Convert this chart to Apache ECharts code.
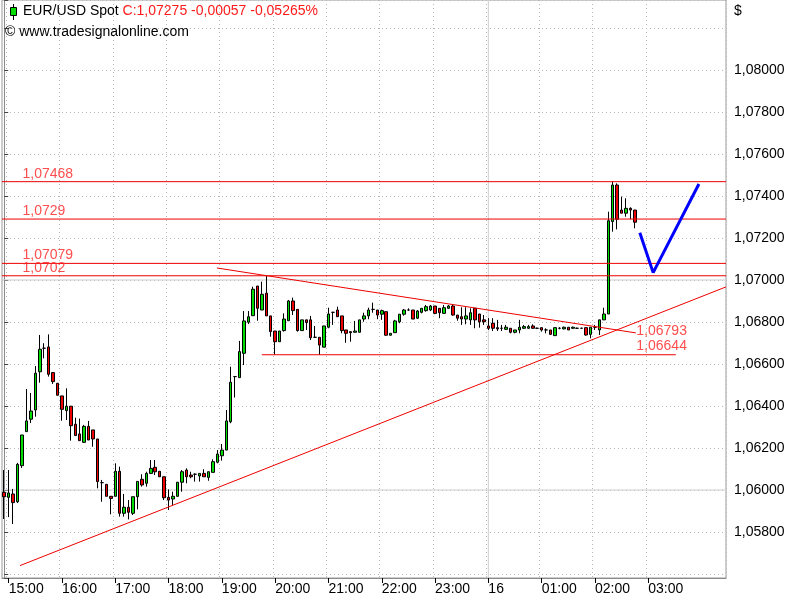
<!DOCTYPE html>
<html>
<head>
<meta charset="utf-8">
<script src="https://cdn.jsdelivr.net/npm/echarts@6/dist/echarts.min.js"></script>
<style>
html,body{margin:0;padding:0;background:#fff;}
#main{width:800px;height:600px;}
</style>
</head>
<body>
<div id="main"></div>
<script>
// ---- time axis: 5-minute bars starting 14:55 ----
const startTime = '14:55';
const barMinutes = 5;
const slotCount = 163; // bars + empty room to the right
const tickTimes = ['15:00','16:00','17:00','18:00','19:00','20:00','21:00','22:00','23:00','00:00','01:00','02:00','03:00'];
const tickTexts = ['15:00','16:00','17:00','18:00','19:00','20:00','21:00','22:00','23:00','16','01:00','02:00','03:00'];

// ---- OHLC (EUR/USD, 5 min) ----
const opens = [1.05989,1.05965,1.05981,1.05944,1.06116,1.06278,1.06337,1.06381,1.06563,1.06675,
1.06681,1.06559,1.06508,1.06448,1.06378,1.06399,1.06313,1.06267,1.06227,1.06303,
1.06286,1.06243,1.06035,1.06027,1.05970,1.05970,1.06089,1.05889,1.05918,1.05889,
1.05968,1.06051,1.06032,1.06079,1.06108,1.06089,1.06063,1.05965,1.05957,1.05970,
1.06037,1.06095,1.06071,1.06075,1.06067,1.06079,1.06060,1.06084,1.06132,1.06163,
1.06190,1.06325,1.06540,1.06535,1.06651,1.06799,1.06830,1.06971,1.06857,1.06937,
1.06829,1.06757,1.06706,1.06759,1.06806,1.06900,1.06860,1.06759,1.06810,1.06810,
1.06727,1.06727,1.06680,1.06775,1.06846,1.06857,1.06829,1.06762,1.06754,1.06751,
1.06751,1.06814,1.06829,1.06860,1.06857,1.06837,1.06849,1.06737,1.06749,1.06801,
1.06837,1.06857,1.06857,1.06818,1.06846,1.06854,1.06857,1.06876,1.06865,1.06841,
1.06865,1.06876,1.06833,1.06825,1.06814,1.06810,1.06865,1.06838,1.06810,1.06781,
1.06794,1.06773,1.06770,1.06765,1.06770,1.06751,1.06762,1.06770,1.06770,1.06781,
1.06770,1.06773,1.06762,1.06762,1.06735,1.06770,1.06767,1.06775,1.06770,1.06770,
1.06770,1.06773,1.06741,1.06775,1.06762,1.06810,1.06838,1.07278,1.07452,1.07333,
1.07318,1.07341,1.07333];
const closes = [1.05968,1.05986,1.05940,1.06122,1.06262,1.06329,1.06376,1.06556,1.06670,1.06675,
1.06551,1.06516,1.06451,1.06384,1.06399,1.06306,1.06259,1.06235,1.06303,1.06238,
1.06243,1.06040,1.06035,1.05970,1.05960,1.06089,1.05889,1.05918,1.05894,1.05968,
1.06041,1.06024,1.06079,1.06103,1.06087,1.06063,1.05963,1.05952,1.05970,1.06037,
1.06087,1.06063,1.06063,1.06075,1.06079,1.06063,1.06087,1.06135,1.06171,1.06190,
1.06329,1.06513,1.06540,1.06659,1.06805,1.06825,1.06956,1.06865,1.06932,1.06829,
1.06754,1.06706,1.06757,1.06814,1.06900,1.06854,1.06759,1.06810,1.06797,1.06725,
1.06727,1.06690,1.06781,1.06838,1.06846,1.06825,1.06759,1.06746,1.06749,1.06757,
1.06810,1.06829,1.06857,1.06860,1.06833,1.06854,1.06737,1.06746,1.06805,1.06837,
1.06857,1.06857,1.06814,1.06852,1.06865,1.06873,1.06876,1.06841,1.06844,1.06868,
1.06876,1.06833,1.06818,1.06814,1.06829,1.06844,1.06810,1.06801,1.06801,1.06770,
1.06770,1.06767,1.06770,1.06775,1.06751,1.06762,1.06775,1.06778,1.06778,1.06770,
1.06770,1.06762,1.06762,1.06741,1.06773,1.06770,1.06775,1.06762,1.06775,1.06770,
1.06770,1.06738,1.06775,1.06775,1.06810,1.06838,1.07282,1.07452,1.07289,1.07318,
1.07341,1.07333,1.07275];
const lows = [1.05862,1.05871,1.05838,1.05938,1.06105,1.06276,1.06319,1.06349,1.06511,1.06627,
1.06540,1.06505,1.06451,1.06330,1.06333,1.06235,1.06259,1.06235,1.06224,1.06238,
1.06206,1.06008,1.05944,1.05970,1.05884,1.05970,1.05873,1.05873,1.05860,1.05881,
1.05908,1.06016,1.06016,1.06076,1.06071,1.06062,1.05952,1.05905,1.05929,1.05968,
1.05992,1.06032,1.06056,1.06040,1.06040,1.06063,1.06044,1.06084,1.06127,1.06140,
1.06190,1.06318,1.06440,1.06535,1.06595,1.06790,1.06830,1.06806,1.06857,1.06829,
1.06730,1.06644,1.06706,1.06754,1.06806,1.06833,1.06754,1.06759,1.06762,1.06714,
1.06727,1.06644,1.06680,1.06770,1.06786,1.06825,1.06746,1.06701,1.06706,1.06751,
1.06751,1.06801,1.06813,1.06844,1.06813,1.06810,1.06735,1.06735,1.06749,1.06794,
1.06830,1.06854,1.06814,1.06814,1.06841,1.06849,1.06852,1.06837,1.06818,1.06841,
1.06862,1.06830,1.06806,1.06786,1.06789,1.06786,1.06770,1.06773,1.06786,1.06762,
1.06757,1.06757,1.06757,1.06762,1.06746,1.06746,1.06746,1.06767,1.06767,1.06767,
1.06767,1.06754,1.06746,1.06738,1.06735,1.06765,1.06765,1.06762,1.06767,1.06767,
1.06767,1.06735,1.06722,1.06762,1.06738,1.06810,1.06838,1.07230,1.07241,1.07318,
1.07301,1.07289,1.07246];
const highs = [1.06095,1.06095,1.06005,1.06129,1.06262,1.06481,1.06462,1.06590,1.06738,1.06699,
1.06741,1.06562,1.06510,1.06448,1.06484,1.06400,1.06344,1.06340,1.06310,1.06329,
1.06286,1.06243,1.06048,1.06027,1.05970,1.06127,1.06111,1.05981,1.05952,1.05968,
1.06041,1.06075,1.06087,1.06143,1.06143,1.06090,1.06063,1.06003,1.05992,1.06038,
1.06095,1.06103,1.06087,1.06079,1.06079,1.06099,1.06087,1.06146,1.06190,1.06219,
1.06381,1.06587,1.06543,1.06710,1.06852,1.06852,1.06968,1.06971,1.06992,1.07020,
1.06829,1.06757,1.06757,1.06841,1.06905,1.06916,1.06860,1.06810,1.06810,1.06829,
1.06781,1.06727,1.06781,1.06868,1.06848,1.06873,1.06829,1.06762,1.06754,1.06805,
1.06810,1.06844,1.06868,1.06892,1.06857,1.06859,1.06849,1.06746,1.06810,1.06837,
1.06862,1.06865,1.06857,1.06857,1.06865,1.06881,1.06881,1.06876,1.06865,1.06881,
1.06881,1.06881,1.06833,1.06870,1.06870,1.06865,1.06865,1.06838,1.06833,1.06818,
1.06818,1.06810,1.06786,1.06786,1.06770,1.06762,1.06810,1.06786,1.06786,1.06789,
1.06773,1.06773,1.06770,1.06762,1.06773,1.06775,1.06778,1.06775,1.06778,1.06773,
1.06773,1.06773,1.06775,1.06786,1.06810,1.06868,1.07325,1.07468,1.07460,1.07397,
1.07389,1.07346,1.07333];

// ---- drawn levels / trendlines (x in bar units, y in price) ----
const levelValues = [1.07468, 1.0729, 1.07079, 1.0702];
const levelTexts = ['1,07468', '1,0729', '1,07079', '1,0702'];
const levelLabelBar = 4;
const roundLevels = [1.06, 1.07];
const dayBreakBar = 109;
const resistanceLine = [[47.9, 1.07057], [142.2, 1.06748]];
const supportLine = [[58.0, 1.06644], [151.2, 1.06644]];
const risingLine = [[3.55, 1.05640], [162.5, 1.06967]];
const projection = [[143.1, 1.07225], [146.1, 1.07035], [156.4, 1.07457]];
const trendLabels = [
  { x: 142.2, y: 1.06748, text: '1,06793', dy: -2 },
  { x: 142.2, y: 1.06644, text: '1,06644', dy: -9 }
];
const yMin = 1.05581, yMax = 1.08333;

// ---- build ----
const times = [];
{
  const [h0, m0] = startTime.split(':').map(Number);
  for (let i = 0; i < slotCount; i++) {
    const m = (h0 * 60 + m0 + barMinutes * i) % 1440;
    times.push(String(Math.floor(m / 60)).padStart(2, '0') + ':' + String(m % 60).padStart(2, '0'));
  }
}
const candles = opens.map((o, i) => [o, closes[i], lows[i], highs[i]]);
const isTick = (idx, val) => tickTimes.indexOf(val) >= 0;
const RED = '#ee0000';
const GRAY = '#cfcfcf';
const FONT = "'Liberation Sans', Arial, sans-serif";
const xLo = -0.5, xHi = slotCount - 0.5;

const lineSeries = (data, color, width, z) => ({
  type: 'line', xAxisIndex: 1, data, symbol: 'none', silent: true,
  lineStyle: { color, width, type: 'solid' }, z
});

const chart = echarts.init(document.getElementById('main'));
chart.setOption({
  animation: false,
  backgroundColor: '#ffffff',
  textStyle: { fontFamily: FONT },
  grid: { left: 2, right: 74, top: 0, bottom: 22, show: true, borderColor: '#9a9a9a', borderWidth: 1, backgroundColor: '#fff' },
  xAxis: [{
    type: 'category',
    data: times,
    boundaryGap: true,
    axisLine: { show: true, lineStyle: { color: '#8a8a8a' } },
    axisTick: { show: true, alignWithLabel: true, interval: isTick, length: 5, lineStyle: { color: '#000' } },
    axisLabel: {
      interval: isTick, align: 'left', margin: 4, fontSize: 14, color: '#000', fontFamily: FONT,
      formatter: v => tickTexts[tickTimes.indexOf(v)] || ''
    },
    splitLine: { show: true, interval: isTick, lineStyle: { color: '#b8b8b8', type: [1, 3] } }
  }, {
    type: 'value', min: xLo, max: xHi, show: false
  }],
  yAxis: {
    type: 'value', position: 'right', min: yMin, max: yMax, splitNumber: 14, scale: true,
    axisLine: { show: true, lineStyle: { color: '#8a8a8a' } },
    axisTick: { show: true, length: 4, lineStyle: { color: '#444' } },
    axisLabel: {
      margin: 8, fontSize: 14, color: '#000', fontFamily: FONT,
      formatter: v => (v < 1.0579 || v > 1.0801) ? '' : v.toFixed(5).replace('.', ',')
    },
    splitLine: { show: true, lineStyle: { color: '#b8b8b8', type: [1, 3] } }
  },
  graphic: [
    { type: 'line', shape: { x1: 13.5, y1: 4, x2: 13.5, y2: 20 }, style: { stroke: '#000', lineWidth: 1 }, z: 100 },
    { type: 'rect', shape: { x: 10.5, y: 7.5, width: 6, height: 8 }, style: { fill: '#00dd00', stroke: '#000', lineWidth: 1 }, z: 101 },
    { type: 'text', left: 23, top: 4, z: 100,
      style: { text: '{a|EUR/USD Spot} {b|C:1,07275 -0,00057 -0,05265%}', font: '14px ' + FONT,
        rich: { a: { fill: '#000', fontSize: 14, fontFamily: FONT }, b: { fill: '#ff1a1a', fontSize: 14, fontFamily: FONT } } } },
    { type: 'text', left: 5, top: 25, z: 100, style: { text: '© www.tradesignalonline.com', fill: '#000', font: '14px ' + FONT } },
    { type: 'text', left: 734, top: 4, z: 100, style: { text: '$', fill: '#000', font: '14px ' + FONT } }
  ],
  series: [
    // solid gray round-number and day-break lines
    ...roundLevels.map(v => lineSeries([[xLo, v], [xHi, v]], GRAY, 1, 1)),
    lineSeries([[dayBreakBar, yMin], [dayBreakBar, yMax]], GRAY, 1, 1),
    {
      type: 'candlestick', xAxisIndex: 0, yAxisIndex: 0, data: candles, barWidth: 3, z: 5,
      itemStyle: { color: '#00dd00', color0: '#ee0000', borderColor: '#000', borderColor0: '#000', borderColorDoji: '#000', borderWidth: 1 }
    },
    // horizontal red levels
    ...levelValues.map(v => lineSeries([[xLo, v], [xHi, v]], RED, 1, 6)),
    lineSeries(resistanceLine, RED, 1, 6),
    lineSeries(supportLine, RED, 1, 6),
    lineSeries(risingLine, RED, 1, 6),
    lineSeries(projection, '#0000ff', 3, 7),
    {
      type: 'scatter', xAxisIndex: 1, symbolSize: 1, itemStyle: { color: 'rgba(0,0,0,0)' }, z: 8, silent: true,
      data: levelValues.map((v, i) => ({ value: [levelLabelBar, v], name: levelTexts[i] }))
        .concat(trendLabels.map(t => ({ value: [t.x, t.y], name: t.text, label: { offset: [0, t.dy] } }))),
      label: { show: true, position: 'right', distance: 0, offset: [0, -8], formatter: p => p.name,
        color: '#ff2020', fontSize: 14, fontFamily: FONT }
    }
  ]
});
</script>
</body>
</html>
